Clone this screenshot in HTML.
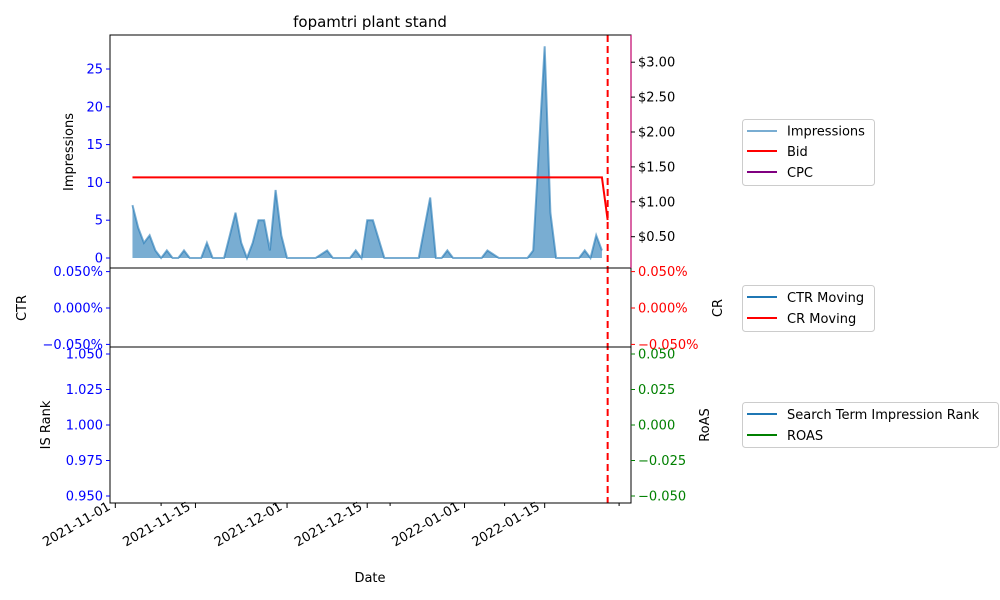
<!DOCTYPE html>
<html><head><meta charset="utf-8">
<style>
body{margin:0;background:#fff;}
svg{display:block;font-family:"DejaVu Sans","Liberation Sans",sans-serif;}
</style></head>
<body>
<svg id="chart" width="1000" height="600" viewBox="0 0 1000 600" xmlns="http://www.w3.org/2000/svg">
<rect width="1000" height="600" fill="#fff"/>
<g id="g-marks"></g>
<g id="g-axes"></g>
<text x="370" y="27" font-size="15" text-anchor="middle">fopamtri plant stand</text>
<text x="370" y="582" font-size="13" text-anchor="middle">Date</text>
<text transform="translate(73,152) rotate(-90)" font-size="13" text-anchor="middle">Impressions</text>
<text transform="translate(26,308) rotate(-90)" font-size="13" text-anchor="middle">CTR</text>
<text transform="translate(50,425) rotate(-90)" font-size="13" text-anchor="middle">IS Rank</text>
<text transform="translate(722,308) rotate(-90)" font-size="13" text-anchor="middle">CR</text>
<text transform="translate(709,425) rotate(-90)" font-size="13" text-anchor="middle">RoAS</text>

<g>
<rect x="742.5" y="119.5" width="132" height="66" rx="3" fill="#fff" stroke="#ccc"/>
<line x1="747" y1="131" x2="777" y2="131" stroke="#1f77b4" stroke-opacity="0.6" stroke-width="2"/>
<text x="787" y="135.5" font-size="13">Impressions</text>
<line x1="747" y1="151" x2="777" y2="151" stroke="red" stroke-width="2"/>
<text x="787" y="156" font-size="13">Bid</text>
<line x1="747" y1="172" x2="777" y2="172" stroke="purple" stroke-width="2"/>
<text x="787" y="177" font-size="13">CPC</text>
</g>
<g>
<rect x="742.5" y="285.5" width="132" height="46" rx="3" fill="#fff" stroke="#ccc"/>
<line x1="747" y1="297" x2="777" y2="297" stroke="#1f77b4" stroke-width="2"/>
<text x="787" y="302" font-size="13">CTR Moving</text>
<line x1="747" y1="318" x2="777" y2="318" stroke="red" stroke-width="2"/>
<text x="787" y="323" font-size="13">CR Moving</text>
</g>
<g>
<rect x="742.5" y="402.5" width="256" height="45" rx="3" fill="#fff" stroke="#ccc"/>
<line x1="747" y1="414" x2="777" y2="414" stroke="#1f77b4" stroke-width="2"/>
<text x="787" y="419" font-size="13">Search Term Impression Rank</text>
<line x1="747" y1="435" x2="777" y2="435" stroke="green" stroke-width="2"/>
<text x="787" y="440" font-size="13">ROAS</text>
</g>
</svg>
<script>
// data (day offsets from 2021-11-01)
const impDays = [3,4,5,6,7,8,9,10,11,12,13,14,15,16,17,18,19,20,21,22,23,24,25,26,27,28,29,30,31,32,33,34,35,36,37,38,39,40,41,42,43,44,45,46,47,48,49,50,51,52,53,54,55,56,57,58,59,60,61,62,63,64,65,66,67,68,69,70,71,72,73,75,76,77,78,79,80,81,82,83,84,85];
const impValues = [7,4,2,3,1,0,1,0,0,1,0,0,0,2,0,0,0,3,6,2,0,2,5,5,1,9,3,0,0,0,0,0,0,0.5,1,0,0,0,0,1,0,5,5,2.5,0,0,0,0,0,0,0,4,8,0,0,1,0,0,0,0,0,0,1,0.5,0,0,0,0,0,0,1,28,6,0,0,0,0,0,1,0,3,1];
const bidDays = [3,85,86];
const bidValues = [1.35,1.35,0.74];
const markerDay = 86;
const majorTickDays = [0,14,30,44,61,75];
const majorTickLabels = ["2021-11-01","2021-11-15","2021-12-01","2021-12-15","2022-01-01","2022-01-15"];
const minorTickDays = [8,28,48,68,88];
const impTicks = [0,5,10,15,20,25];
const cpcTicks = [0.5,1,1.5,2,2.5,3];
const ctrTicks = [0.05,0,-0.05];
const rankTicks = [1.05,1.025,1,0.975,0.95];
const roasTicks = [0.05,0.025,0,-0.025,-0.05];

const NS="http://www.w3.org/2000/svg";
const L=110,R=631;
const xS=d=>115.3+5.725*d;
const yImp=v=>258-7.56*v;
const yCpc=v=>271.6-69.8*v;
const yCtr=v=>308-728*v;
const yRank=v=>425-1420*(v-1);
const yRoas=v=>425-1420*v;
const marks=document.getElementById('g-marks');
const axes=document.getElementById('g-axes');
function mk(tag,attrs,parent){const e=document.createElementNS(NS,tag);for(const k in attrs)e.setAttribute(k,attrs[k]);parent.appendChild(e);return e;}

let pts=impDays.map((d,i)=>xS(d).toFixed(2)+','+yImp(impValues[i]).toFixed(2));
let area=mk('polygon',{points:xS(impDays[0])+','+yImp(0)+' '+pts.join(' ')+' '+xS(impDays[impDays.length-1])+','+yImp(0),fill:'#1f77b4','fill-opacity':0.6},marks);


let iline=mk('polyline',{points:pts.join(' '),fill:'none',stroke:'#1f77b4','stroke-opacity':0.6,'stroke-width':2},marks);


let bline=mk('polyline',{points:bidDays.map((d,i)=>xS(d)+','+yCpc(bidValues[i])).join(' '),fill:'none',stroke:'red','stroke-width':2},marks);


let vl=mk('line',{x1:xS(markerDay),x2:xS(markerDay),y1:35,y2:503,stroke:'red','stroke-width':2,'stroke-dasharray':'7,4'},marks);



const panels=[[35,268],[268,347],[347,503]];
panels.forEach((p,i)=>{
 const r=mk('rect',{x:L,y:p[0],width:R-L,height:p[1]-p[0],fill:'none',stroke:'#000','stroke-width':1},axes);
 
 
});
mk('line',{x1:R,x2:R,y1:35,y2:268,stroke:'#c0006a','stroke-width':1.2},axes);
function yt(vals,fy,x,side,color,fmt,name){
 vals.forEach(v=>{
  const y=fy(v);
  mk('line',{x1:side<0?x-4:x,x2:side<0?x:x+4,y1:y,y2:y,stroke:color},axes);
  const t=mk('text',{x:side<0?x-7:x+7,y:y+4.5,'font-size':13,fill:color,'text-anchor':side<0?'end':'start'},axes);
  t.textContent=fmt(v);
  
  
 });
}
const minus=s=>s.replace('-','\u2212');
yt(impTicks,yImp,L,-1,'blue',v=>String(v),'impressions-tick-label');
yt(cpcTicks,yCpc,R,1,'#000',v=>'$'+v.toFixed(2),'cpc-tick-label');
yt(ctrTicks,yCtr,L,-1,'blue',v=>minus(v.toFixed(3))+'%','ctr-tick-label');
yt(ctrTicks,yCtr,R,1,'red',v=>minus(v.toFixed(3))+'%','cr-tick-label');
yt(rankTicks,yRank,L,-1,'blue',v=>v.toFixed(3),'is-rank-tick-label');
yt(roasTicks,yRoas,R,1,'green',v=>minus(v.toFixed(3)),'roas-tick-label');
majorTickDays.forEach((d,i)=>{
 const x=xS(d);
 mk('line',{x1:x,x2:x,y1:503,y2:508,stroke:'#000'},axes);
 const t=mk('text',{transform:'translate('+(x-4)+',509) rotate(-30)','font-size':13,'text-anchor':'end'},axes);
 t.textContent=majorTickLabels[i];
 
 
});
minorTickDays.forEach(d=>{const x=xS(d);mk('line',{x1:x,x2:x,y1:503,y2:506,stroke:'#000'},axes);});
</script>
</body></html>
